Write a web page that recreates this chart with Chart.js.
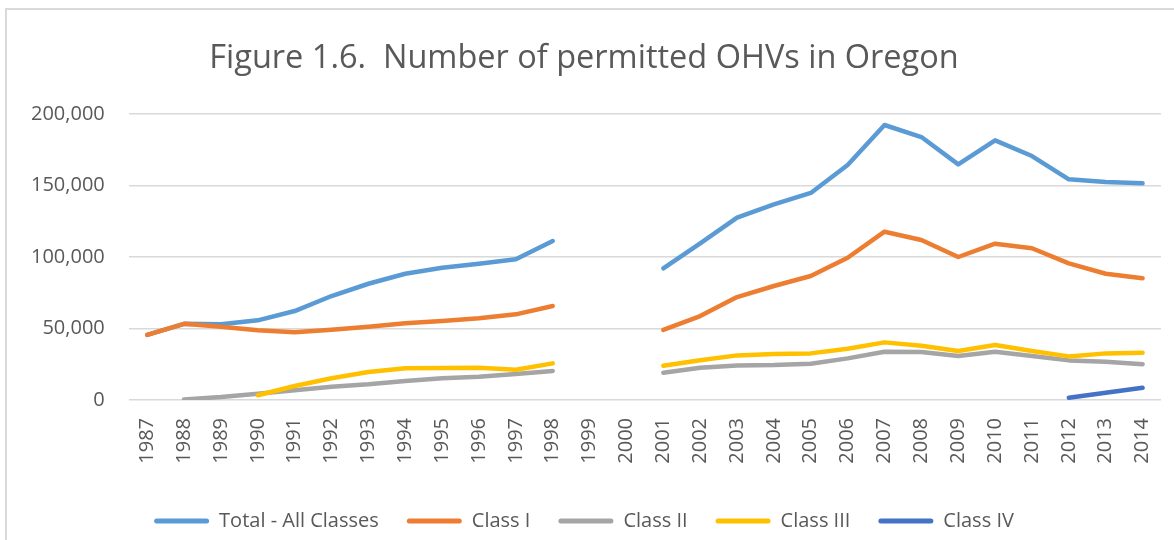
<!DOCTYPE html>
<html>
<head>
<meta charset="utf-8">
<script src="https://cdn.jsdelivr.net/npm/chart.js@4"></script>
<style>
body{margin:0;background:#fff;overflow:hidden}
#wrap{position:absolute;left:5px;top:8px;width:1167px;height:532px;border-left:2px solid #d9d9d9;border-top:2px solid #d9d9d9}
</style>
</head>
<body>
<div id="wrap"><canvas id="ohv-chart"></canvas></div>
<script>
const years = ["1987","1988","1989","1990","1991","1992","1993","1994","1995","1996","1997","1998","1999","2000",
"2001","2002","2003","2004","2005","2006","2007","2008","2009","2010","2011","2012","2013","2014"]

const totalAll = [45500,53300,53000,55700,62200,72700,81300,88300,92500,95300,98400,111200,null,null,
92100,109600,127500,136800,144800,164300,192300,183900,164800,181600,170600,154300,152400,151500]
const classI = [45500,53300,51300,48700,47300,49200,51300,53600,55200,57100,59900,65700,null,null,
49000,58700,72000,79700,86700,99500,117700,111900,100000,109300,106100,95600,88300,85100]
const classII = [null,400,2100,4400,6800,9300,11000,13300,15200,16300,18200,20300,null,null,
19100,22600,24200,24500,25400,29100,33800,33600,30800,33800,30800,27700,26800,25000]
const classIII = [null,null,null,3300,9800,15200,19600,22200,22400,22600,21200,25600,null,null,
24000,27800,31200,32200,32600,35900,40300,38000,34300,38500,34300,30500,32600,33000]
const classIV = [null,null,null,null,null,null,null,null,null,null,null,null,null,null,
null,null,null,null,null,null,null,null,null,null,null,1600,5100,8600]

const yTicks = [0,50000,100000,150000,200000]

const txt = "#595959"
const font = "'Open Sans', sans-serif"

function line(label, data, color, order){
return {
label,
data,
borderColor:color,
backgroundColor:color,
borderWidth:4.5,
borderCapStyle:"round",
borderJoinStyle:"round",
pointRadius:0,
fill:false,
spanGaps:false,
tension:0,
order
}
}

const canvas = document.getElementById("ohv-chart")
const ctx = canvas.getContext("2d")

new Chart(ctx,{
type:"line",
data:{
labels:years,
datasets:[
line("Total - All Classes", totalAll, "#5b9bd5", 5),
line("Class I", classI, "#ed7d31", 4),
line("Class II", classII, "#a5a5a5", 3),
line("Class III", classIII, "#ffc000", 2),
line("Class IV", classIV, "#4472c4", 1)
]
},
options:{
responsive:true,
maintainAspectRatio:false,
animation:false,
layout:{padding:{left:0,right:13,top:0,bottom:1}},
plugins:{
tooltip:{enabled:false},
title:{
display:true,
text:"Figure 1.6.  Number of permitted OHVs in Oregon",
color:txt,
font:{family:font,size:32.5,weight:"normal"},
padding:{top:29,bottom:36}
},
legend:{
position:"bottom",
reverse:true,
labels:{
color:txt,
font:{family:font,size:20},
boxWidth:55,
boxHeight:5,
padding:28,
generateLabels(chart){
const items = Chart.defaults.plugins.legend.labels.generateLabels(chart)
return items.map(it => Object.assign(it,{lineWidth:0,borderRadius:2.5}))
}
}
}
},
scales:{
x:{
offset:true,
grid:{display:false,drawTicks:false},
border:{display:false},
ticks:{
color:txt,
font:{family:font,size:20},
maxRotation:90,
minRotation:90,
padding:18,
autoSkip:false
},
afterFit(scale){
scale.height = 83
scale.paddingRight = 0
}
},
y:{
min:0,
max:200000,
afterBuildTicks(scale){ scale.ticks = yTicks.map(v => ({value:v})) },
grid:{color:"#d9d9d9",lineWidth:1.5,drawTicks:false},
border:{display:false},
ticks:{
color:txt,
font:{family:font,size:20},
padding:24,
callback:v => v.toLocaleString("en-US")
}
}
}
}
})
</script>
</body>
</html>
